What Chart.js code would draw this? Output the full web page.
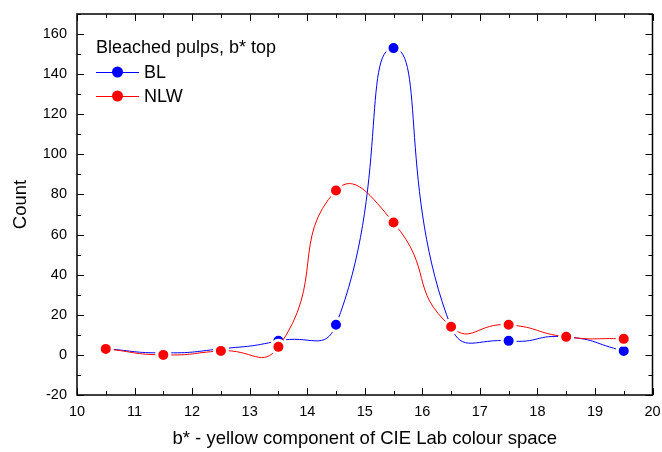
<!DOCTYPE html>
<html>
<head>
<meta charset="utf-8">
<script src="https://cdn.jsdelivr.net/npm/chart.js@4"></script>
<style>
  html, body { margin: 0; padding: 0; background: #fff; }
  #wrap { width: 662px; height: 452px; }
</style>
</head>
<body>
<div id="wrap"><canvas id="chart" width="662" height="452"></canvas></div>
<script>
// b* bin centres
var bins = [10.5, 11.5, 12.5, 13.5, 14.5, 15.5, 16.5, 17.5, 18.5, 19.5];
var blCounts  = [3, 1, 3, 7, 15, 153, 14, 7, 9, 2];
var nlwCounts = [3, 0, 2, 4, 82, 66, 14, 15, 9, 8];
var xTicks = [10, 11, 12, 13, 14, 15, 16, 17, 18, 19, 20];
var yTicks = [-20, 0, 20, 40, 60, 80, 100, 120, 140, 160];

var FONT = "'Liberation Sans', Arial, sans-serif";

function pts(vals){
  return bins.map(function(b, i){ return {x: b, y: vals[i]}; });
}

// frame + inward ticks (major and minor) on all four sides
var frameTicks = {
  id: 'frameTicks',
  afterDraw: function(chart){
    var c = chart.ctx, a = chart.chartArea;
    var xs = chart.scales.x, ys = chart.scales.y;
    c.save();
    c.strokeStyle = '#000';
    c.lineWidth = 1.5;
    c.strokeRect(a.left, a.top, a.right - a.left, a.bottom - a.top);
    c.lineWidth = 1;
    c.beginPath();
    for (var v = 10; v <= 20.001; v += 0.5) {
      var px = Math.round(xs.getPixelForValue(v)) + 0.5;
      var len = (Math.abs(v - Math.round(v)) < 0.01) ? 7 : 4;
      c.moveTo(px, a.bottom); c.lineTo(px, a.bottom - len);
      c.moveTo(px, a.top); c.lineTo(px, a.top + len);
    }
    for (var w = -20; w <= 170; w += 10) {
      var py = Math.round(ys.getPixelForValue(w)) + 0.5;
      var l2 = (w % 20 === 0) ? 7 : 4;
      c.moveTo(a.left, py); c.lineTo(a.left + l2, py);
      c.moveTo(a.right, py); c.lineTo(a.right - l2, py);
    }
    c.stroke();
    c.restore();
  }
};

// legend box inside the plot, top left
var insideLegend = {
  id: 'insideLegend',
  afterDraw: function(chart){
    var c = chart.ctx;
    var x0 = 96, y0 = 48;
    c.save();
    c.fillStyle = '#000';
    c.font = '18px ' + FONT;
    c.textBaseline = 'middle';
    c.fillText('Bleached pulps, b* top', x0, y0);
    var rows = [
      {label: 'BL', color: '#0000ff'},
      {label: 'NLW', color: '#ff0000'}
    ];
    rows.forEach(function(r, i){
      var y = y0 + 24 * (i + 1);
      c.strokeStyle = r.color;
      c.lineWidth = 1;
      c.beginPath();
      c.moveTo(x0, y + 0.5); c.lineTo(x0 + 43, y + 0.5);
      c.stroke();
      c.fillStyle = r.color;
      c.beginPath();
      c.arc(x0 + 21.5, y, 5.5, 0, Math.PI * 2);
      c.fill();
      c.fillStyle = '#000';
      c.fillText(r.label, x0 + 48, y + 1);
    });
    c.restore();
  }
};

function series(label, vals, color, order){
  return {
    label: label,
    data: pts(vals),
    borderColor: color,
    backgroundColor: color,
    borderWidth: 1,
    tension: 0.55,
    pointRadius: 6.5,
    pointHoverRadius: 6.5,
    pointBorderColor: '#fff',
    pointBorderWidth: 3,
    pointBackgroundColor: color,
    order: order
  };
}

var ctx = document.getElementById('chart').getContext('2d');
new Chart(ctx, {
  type: 'line',
  data: {
    datasets: [
      series('BL', blCounts, '#0000ff', 2),
      series('NLW', nlwCounts, '#ff0000', 1)
    ]
  },
  options: {
    responsive: false,
    animation: false,
    layout: { padding: { top: 14, right: 7, left: 0, bottom: 0 } },
    plugins: {
      legend: { display: false },
      tooltip: { enabled: false }
    },
    scales: {
      x: {
        type: 'linear',
        min: 10, max: 20,
        afterBuildTicks: function(s){ s.ticks = xTicks.map(function(v){ return {value: v}; }); },
        afterFit: function(s){ s.height = 57; s.paddingLeft = 0; s.paddingRight = 0; },
        grid: { display: false, drawTicks: false },
        border: { display: false },
        ticks: { color: '#000', padding: 8, font: { family: FONT, size: 14.5 }, maxRotation: 0 },
        title: { display: true, text: 'b* - yellow component of CIE Lab colour space', color: '#000',
                 font: { family: FONT, size: 18.5 }, padding: { top: 0, bottom: 2 } }
      },
      y: {
        min: -20, max: 170,
        afterBuildTicks: function(s){ s.ticks = yTicks.map(function(v){ return {value: v}; }); },
        afterFit: function(s){ s.width = 77; s.paddingTop = 0; s.paddingBottom = 0; },
        grid: { display: false, drawTicks: false },
        border: { display: false },
        ticks: { color: '#000', padding: 10, font: { family: FONT, size: 14.5 } },
        title: { display: true, text: 'Count', color: '#000',
                 font: { family: FONT, size: 18.5 }, padding: { top: 10, bottom: 0 } }
      }
    }
  },
  plugins: [frameTicks, insideLegend]
});
</script>
</body>
</html>
